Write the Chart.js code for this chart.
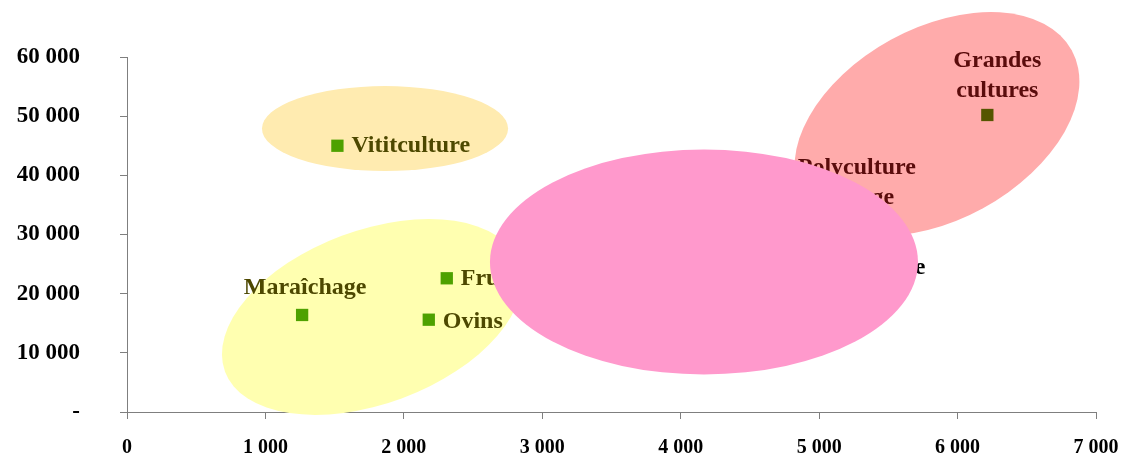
<!DOCTYPE html>
<html>
<head>
<meta charset="utf-8">
<script src="https://cdn.jsdelivr.net/npm/chart.js@4/dist/chart.umd.min.js"></script>
<style>
  html, body { margin: 0; padding: 0; background: #ffffff; }
  #wrap { width: 1131px; height: 459px; position: relative; }
</style>
</head>
<body>
<div id="wrap"><canvas id="c" width="1131" height="459"></canvas></div>
<script>
// ---- data ----
const categories = ['Vititculture', 'Maraîchage', 'Fruits', 'Ovins', 'Grandes cultures', 'Polyculture élevage', 'Bovins viande'];
const xValues = [1520, 1265, 2310, 2180, 6215, 5200, 4630];
const yValues = [45000, 16400, 22600, 15600, 50200, 32100, 24300];
const xTicks = [0, 1000, 2000, 3000, 4000, 5000, 6000, 7000];
const yTicks = [0, 10000, 20000, 30000, 40000, 50000, 60000];

// ---- styles ----
const pointColors = ['#4ea100', '#4ea100', '#4ea100', '#4ea100', '#555500', '#555500', '#333333'];
const labelColors = ['#4d4800', '#4d4800', '#4d4800', '#4d4800', '#5a0c0c', '#5a0c0c', '#000000'];
// label layout: [dx, dy, align, lines]
const labelLayout = [
  [14, 0, 'left', ['Vititculture']],
  [3, -27, 'center', ['Maraîchage']],
  [14, 1, 'left', ['Fruits']],
  [14, 2, 'left', ['Ovins']],
  [10, -54, 'center', ['Grandes', 'cultures']],
  [10, -54, 'center', ['Polyculture', 'élevage']],
  [14, 0, 'left', ['Bovins viande']]
];
// ellipses in data units: cx, cy, rx (x units), ry (y units), angle (deg), color
const ellipsesBack = [
  { cx: 1864, cy: 47900, rx: 889, ry: 7180, angle: 0, color: '#ffebb0' },
  { cx: 1770, cy: 16060, rx: 1133, ry: 14650, angle: -20.4, color: '#ffffb0' },
  { cx: 5851, cy: 48670, rx: 1110, ry: 16225, angle: -28.7, color: '#ffabab' }
];
const ellipsesFront = [
  { cx: 4168, cy: 25350, rx: 1546, ry: 19010, angle: 0, color: '#ff99cc' }
];

const FONT = '"Liberation Serif", "Times New Roman", serif';

function fmt(v) {
  if (v === 0) return '-';
  return String(v).replace(/\B(?=(\d{3})+(?!\d))/g, ' ');
}

function drawEllipses(chart, list) {
  const xs = chart.scales.x, ys = chart.scales.y;
  const pxX = Math.abs(xs.getPixelForValue(1000) - xs.getPixelForValue(0)) / 1000;
  const pxY = Math.abs(ys.getPixelForValue(10000) - ys.getPixelForValue(0)) / 10000;
  const ctx = chart.ctx;
  list.forEach(e => {
    ctx.save();
    ctx.beginPath();
    ctx.fillStyle = e.color;
    ctx.ellipse(xs.getPixelForValue(e.cx), ys.getPixelForValue(e.cy), e.rx * pxX, e.ry * pxY, e.angle * Math.PI / 180, 0, Math.PI * 2);
    ctx.fill();
    ctx.restore();
  });
}

const ellipsePlugin = {
  id: 'ellipses',
  beforeDatasetsDraw(chart) { drawEllipses(chart, ellipsesBack); },
  afterDatasetsDraw(chart) {
    const ctx = chart.ctx;
    const meta = chart.getDatasetMeta(0);
    ctx.save();
    ctx.font = 'bold 24px ' + FONT;
    ctx.textBaseline = 'middle';
    meta.data.forEach((pt, i) => {
      const [dx, dy, align, lines] = labelLayout[i];
      ctx.fillStyle = labelColors[i];
      ctx.textAlign = align;
      lines.forEach((ln, k) => {
        ctx.fillText(ln, pt.x + dx, pt.y + dy + k * 30);
      });
    });
    ctx.restore();
    drawEllipses(chart, ellipsesFront);
  }
};

new Chart(document.getElementById('c'), {
  type: 'scatter',
  data: {
    labels: categories,
    datasets: [{
      data: xValues.map((x, i) => ({ x: x, y: yValues[i] })),
      pointStyle: 'rect',
      pointRadius: 8.7,
      pointHoverRadius: 8.7,
      borderWidth: 0,
      backgroundColor: pointColors
    }]
  },
  options: {
    responsive: false,
    animation: false,
    devicePixelRatio: 1,
    layout: { padding: { top: 57, right: 35, left: 0, bottom: 0 } },
    plugins: { legend: { display: false }, tooltip: { enabled: false } },
    scales: {
      x: {
        type: 'linear',
        min: 0, max: 7000,
        afterBuildTicks(s) { s.ticks = xTicks.map(v => ({ value: v })); },
        afterFit(s) { s.height = 47; s.paddingLeft = 0; s.paddingRight = 0; },
        grid: { drawOnChartArea: false, drawTicks: true, tickLength: 7, color: '#7f7f7f' },
        border: { color: '#7f7f7f', width: 1 },
        ticks: {
          color: '#000000',
          padding: 17,
          maxRotation: 0,
          font: { family: FONT, size: 20, weight: 'bold' },
          callback: v => (v === 0 ? '0' : fmt(v))
        }
      },
      y: {
        type: 'linear',
        min: 0, max: 60000,
        afterBuildTicks(s) { s.ticks = yTicks.map(v => ({ value: v })); },
        afterFit(s) { s.width = 127; s.paddingTop = 0; s.paddingBottom = 0; },
        grid: { drawOnChartArea: false, drawTicks: true, tickLength: 7, color: '#7f7f7f' },
        border: { color: '#7f7f7f', width: 1 },
        ticks: {
          color: '#000000',
          padding: 40,
          font: { family: FONT, size: 23, weight: 'bold' },
          callback: v => fmt(v)
        }
      }
    }
  },
  plugins: [ellipsePlugin]
});
</script>
</body>
</html>
